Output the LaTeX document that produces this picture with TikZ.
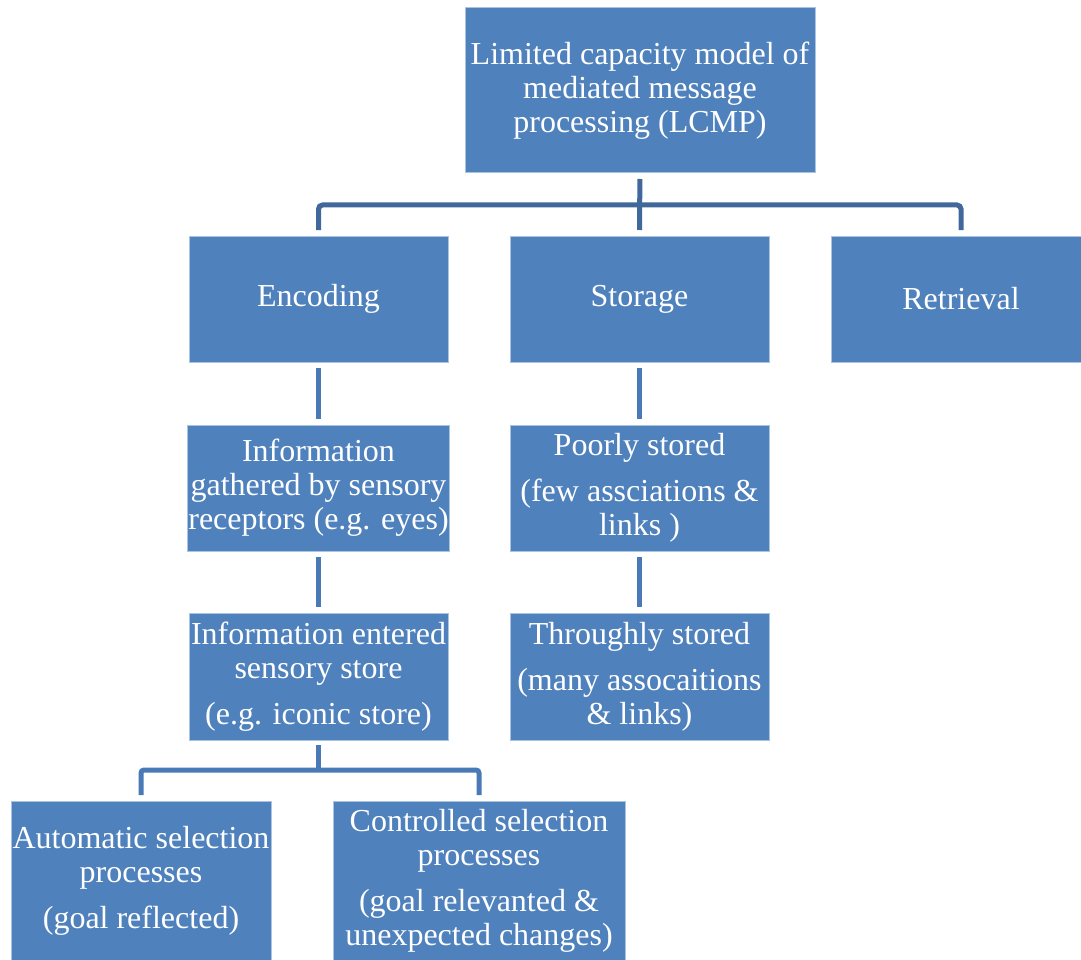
\documentclass[tikz,border=0pt]{standalone}
\usepackage{fontspec}
\setmainfont{Liberation Serif}
\usepackage{tikz}
\usetikzlibrary{arrows.meta,positioning,calc}
\definecolor{lcblue}{RGB}{79,129,189}
\definecolor{lcedge}{RGB}{170,196,226}
\definecolor{lcbus}{RGB}{64,104,154}
\definecolor{lclink}{RGB}{74,122,182}
\tikzset{
  stage/.style={draw=lcedge, line width=1pt, fill=lcblue, text=white, align=center, inner sep=1pt, outer sep=0pt, minimum width=259pt, minimum height=126pt, font=\fontsize{32}{34}\selectfont},
  bus/.style={lcbus, line width=5pt, rounded corners=4pt},
  link/.style={lclink, line width=5pt, rounded corners=3pt},
  gap/.style={shorten <=6pt, shorten >=6pt}
}
\begin{document}
\begin{tikzpicture}[x=1pt,y=-1pt]
    \useasboundingbox (0,0) rectangle (1081,960);
    \node[stage, minimum width=350pt, minimum height=165pt] (lcmp) at (640,90.5) {Limited capacity model of\\mediated message\\processing (LCMP)};
    \node[stage] (encoding) at (318.5,299) {Encoding};
    \node[stage] (storage) at (639.5,299) {Storage};
    \node[stage, minimum width=260pt] (retrieval) at (961,299) {Retrieval};
    \node[stage] (gathered) at (318.5,488) {Information\\gathered by sensory\\receptors (e.g. eyes)};
    \node[stage] (poorly) at (639.5,488) {Poorly stored\\[12pt](few assciations \&\\links )};
    \node[stage, minimum height=127pt] (entered) at (318.5,676.5) {Information entered\\sensory store\\[12pt](e.g. iconic store)};
    \node[stage, minimum height=127pt] (thorough) at (639.5,676.5) {Throughly stored\\[12pt](many assocaitions\\\& links)};
    \node[stage, minimum width=260pt, minimum height=160pt] (automatic) at (141,881) {Automatic selection\\processes\\[12pt](goal reflected)};
    \node[stage, minimum width=292pt, minimum height=160pt] (controlled) at (479,881) {Controlled selection\\processes\\[12pt](goal relevanted \&\\unexpected changes)};
    \coordinate (phasebus) at (640,205);
    \coordinate (selbus) at (318.5,770);
    \draw[bus, gap] (lcmp) -- (storage);
    \draw[bus] ([yshift=6pt]encoding.north) |- (phasebus) -| ([yshift=6pt]retrieval.north);
    \draw[link, gap] (encoding) -- (gathered);
    \draw[link, gap] (gathered) -- (entered);
    \draw[link, gap] (storage) -- (poorly);
    \draw[link, gap] (poorly) -- (thorough);
    \draw[link, shorten <=5pt] (entered.south) -- (selbus);
    \draw[link] ([yshift=6pt]automatic.north) |- (selbus) -| ([yshift=6pt]controlled.north);
  \end{tikzpicture}
\end{document}
